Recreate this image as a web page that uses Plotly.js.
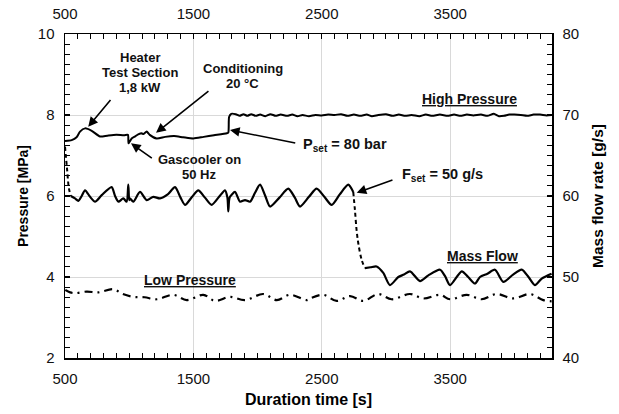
<!DOCTYPE html>
<html>
<head>
<meta charset="utf-8">
<script src="https://cdn.plot.ly/plotly-3.0.1.min.js"></script>
<style>html,body{margin:0;padding:0;background:#fff;}#chart{width:619px;height:414px;}</style>
</head>
<body>
<div id="chart"></div>
<script>
// Duration time [s] and values
const hpTime = [500,552,590,617,656,708,773,830,900,960,990,995,1019,1050,1070,1097,1110,1136,1160,1214,1280,1350,1420,1500,1580,1660,1760,1772,1778,1795,1830,1860,1890,1920,1950,1985,2020,2060,2100,2140,2180,2230,2270,2310,2350,2400,2450,2500,2550,2600,2650,2700,2750,2800,2850,2890,2940,3000,3050,3100,3150,3200,3260,3310,3360,3420,3480,3530,3580,3630,3680,3740,3790,3840,3880,3920,3960,4000,4050,4100,4150,4200,4250,4290];
const highPressure = [7.36,7.38,7.45,7.59,7.67,7.61,7.47,7.49,7.51,7.50,7.51,7.30,7.42,7.48,7.52,7.55,7.53,7.59,7.51,7.42,7.46,7.48,7.45,7.42,7.46,7.50,7.55,7.57,7.95,8.03,8.02,7.98,8.02,7.98,8.02,7.98,8.01,7.97,8.02,7.98,8.01,7.98,8.01,7.97,8.00,7.97,8.00,7.99,8.01,8.00,8.02,7.98,8.01,7.98,8.01,7.97,8.00,8.02,7.98,8.01,7.98,8.00,7.97,8.01,7.98,8.01,7.98,8.01,7.98,8.01,7.99,8.01,7.98,8.03,7.97,7.98,8.01,8.01,8.00,7.98,8.01,8.01,7.99,8.00];

const lpTime = [502,540,580,669,760,876,950,1032,1120,1214,1343,1448,1577,1668,1785,1902,2044,2149,2252,2382,2408,2512,2616,2720,2824,2940,3044,3187,3291,3421,3499,3629,3745,3862,3991,4121,4225,4290];
const lowPressure = [3.68,3.62,3.60,3.64,3.62,3.70,3.58,3.51,3.50,3.45,3.56,3.43,3.56,3.41,3.51,3.43,3.58,3.43,3.56,3.43,3.47,3.56,3.41,3.53,3.41,3.58,3.45,3.58,3.47,3.56,3.45,3.56,3.45,3.58,3.47,3.58,3.43,3.40];

const mfTime = [500,515,530,545,578,604,630,656,695,734,786,863,890,916,954,980,993,1000,1006,1032,1084,1136,1188,1240,1300,1357,1400,1435,1490,1538,1590,1642,1700,1746,1765,1772,1778,1785,1824,1863,1902,1941,1980,2019,2060,2097,2170,2239,2290,2330,2400,2460,2520,2577,2640,2706,2745,2758,2771,2784,2811,2836,2880,2927,2979,3031,3096,3140,3187,3265,3330,3421,3460,3499,3590,3640,3693,3732,3790,3849,3914,3990,4057,4110,4160,4213,4290];
const massFlow = [66.1,63.5,61.0,60.0,59.7,59.4,60.0,60.7,59.9,59.3,60.1,61.1,60.0,59.3,59.7,59.3,61.4,59.5,59.7,59.3,60.5,59.5,59.9,59.7,60.2,61.1,59.8,58.9,59.9,60.7,59.8,58.9,59.9,60.7,59.8,58.1,59.5,59.9,60.5,59.3,59.5,59.3,60.4,61.4,60.0,58.7,59.8,60.9,59.8,58.7,59.9,60.9,59.9,58.9,60.2,61.4,60.5,58.3,55.8,54.2,52.1,51.1,51.2,51.3,50.5,49.0,50.0,50.3,50.7,49.5,50.2,50.9,50.1,49.0,50.7,50.0,49.2,50.0,50.4,50.9,49.4,50.3,50.9,50.0,49.0,49.8,50.4];

const xTickVals = [500,1500,2500,3500];
const leftTicks = [2,4,6,8,10];
const rightTicks = [40,50,60,70,80];

const FONT = 'Arial, "Liberation Sans", sans-serif';
const black = '#000';

// split mass flow into dashed (transitions) and solid parts by index
const dashStartEnd = 3;
const descStart = 56, descEnd = 61;
function seg(a, i, j){ return a.slice(i, j + 1); }

const traces = [
  {x: hpTime, y: highPressure, type:'scatter', mode:'lines', line:{color:black, width:2, shape:'spline', smoothing:0.6}, xaxis:'x', yaxis:'y', hoverinfo:'skip'},
  {x: lpTime, y: lowPressure, type:'scatter', mode:'lines', line:{color:black, width:2.2, dash:'8px,5px,2px,5px', shape:'spline'}, xaxis:'x', yaxis:'y', hoverinfo:'skip'},
  {x: seg(mfTime,0,dashStartEnd), y: seg(massFlow,0,dashStartEnd), type:'scatter', mode:'lines', line:{color:black, width:2, dash:'4px,3px', shape:'spline'}, xaxis:'x', yaxis:'y2', hoverinfo:'skip'},
  {x: seg(mfTime,dashStartEnd,descStart), y: seg(massFlow,dashStartEnd,descStart), type:'scatter', mode:'lines', line:{color:black, width:2.2, shape:'spline', smoothing:0.7}, xaxis:'x', yaxis:'y2', hoverinfo:'skip'},
  {x: seg(mfTime,descStart,descEnd), y: seg(massFlow,descStart,descEnd), type:'scatter', mode:'lines', line:{color:black, width:2, dash:'4px,3px', shape:'spline'}, xaxis:'x', yaxis:'y2', hoverinfo:'skip'},
  {x: seg(mfTime,descEnd,mfTime.length-1), y: seg(massFlow,descEnd,mfTime.length-1), type:'scatter', mode:'lines', line:{color:black, width:2.2, shape:'spline', smoothing:0.7}, xaxis:'x', yaxis:'y2', hoverinfo:'skip'},
  {x: [], y: [], type:'scatter', mode:'lines', xaxis:'x2', yaxis:'y', showlegend:false, hoverinfo:'skip'}
];

const tickFont = {family: FONT, size: 15, color: '#111'};

const xCommon = {
  range: [500, 4293], tickvals: xTickVals, ticks: 'inside', ticklen: 5, tickwidth: 1.2, tickcolor: black,
  showline: true, linecolor: black, linewidth: 1.5, zeroline: false,
  minor: {ticks: 'inside', ticklen: 5, tickwidth: 1, tickcolor: black, dtick: 100, tick0: 500, showgrid: false},
  tickfont: tickFont
};

const layout = {
  width: 619, height: 414,
  margin: {l: 65, r: 67, t: 34, b: 56},
  paper_bgcolor: '#fff', plot_bgcolor: '#fff',
  showlegend: false,
  font: {family: FONT, color: black},
  xaxis: Object.assign({}, xCommon, {
    showgrid: true, gridcolor: '#d9d9d9', gridwidth: 1, ticklabelstandoff: 6,
    title: {text: '<b>Duration time [s]</b>', font: {family: FONT, size: 16, color: '#000'}, standoff: 8}
  }),
  xaxis2: Object.assign({}, xCommon, {
    overlaying: 'x', side: 'top', anchor: 'y', showgrid: false, matches: 'x', ticklabelstandoff: 8
  }),
  yaxis: {
    range: [2, 10], tickvals: leftTicks, ticks: 'inside', ticklen: 5, tickwidth: 1.2, tickcolor: black,
    showline: true, linecolor: black, linewidth: 1.5, zeroline: false,
    showgrid: true, gridcolor: '#d9d9d9', gridwidth: 1, ticklabelstandoff: 6,
    minor: {ticks: 'inside', ticklen: 5, tickwidth: 1, tickcolor: black, dtick: 0.25, tick0: 2, showgrid: false},
    tickfont: tickFont,
    title: {text: '<b>Pressure [MPa]</b>', font: {family: FONT, size: 14, color: '#000'}, standoff: 6}
  },
  yaxis2: {
    range: [40, 80], tickvals: rightTicks, overlaying: 'y', side: 'right', anchor: 'x',
    ticks: 'inside', ticklen: 5, tickwidth: 1.2, tickcolor: black, ticklabelstandoff: 6,
    showline: true, linecolor: black, linewidth: 1.5, zeroline: false, showgrid: false,
    minor: {ticks: 'inside', ticklen: 5, tickwidth: 1, tickcolor: black, dtick: 1.25, tick0: 40, showgrid: false},
    tickfont: tickFont,
    title: {text: '<b>Mass flow rate [g/s]</b>', font: {family: FONT, size: 15.5, color: '#000'}, standoff: 14}
  },
  annotations: []
};

function txt(x, y, text, size){
  return {x: x, y: y, xref: 'x', yref: 'y', text: text, showarrow: false,
          font: {family: FONT, size: size, color: '#111'}, align: 'center', xanchor: 'center', yanchor: 'middle'};
}
function arrow(hx, hy, tx, ty){
  return {x: hx, y: hy, ax: tx, ay: ty, xref: 'x', yref: 'y', axref: 'x', ayref: 'y', text: '', showarrow: true,
          arrowhead: 2, arrowsize: 1.2, arrowwidth: 1.6, arrowcolor: black, standoff: 0};
}
layout.annotations.push(
  txt(1084, 9.41, '<b>Heater</b>', 13),
  txt(1084, 9.04, '<b>Test Section</b>', 13),
  txt(1084, 8.69, '<b>1,8 kW</b>', 13),
  txt(1886, 9.16, '<b>Conditioning</b>', 13),
  txt(1886, 8.79, '<b>20 °C</b>', 13),
  txt(1544, 6.89, '<b>Gascooler on</b>', 13),
  txt(1544, 6.52, '<b>50 Hz</b>', 13),
  txt(2681, 7.26, '<b>P<sub>set</sub> = 80 bar</b>', 14.5),
  txt(3442, 6.52, '<b>F<sub>set</sub> = 50 g/s</b>', 14.5),
  txt(3654, 8.40, '<b><u>High Pressure</u></b>', 14),
  txt(3755, 4.52, '<b><u>Mass Flow</u></b>', 14),
  txt(1474, 3.93, '<b><u>Low Pressure</u></b>', 14),
  arrow(681, 7.71, 864, 8.41),
  arrow(1209, 7.56, 1629, 8.62),
  arrow(1014, 7.30, 1188, 6.91),
  arrow(1785, 7.63, 2305, 7.30),
  arrow(2772, 6.08, 3062, 6.41)
);

Plotly.newPlot('chart', traces, layout, {staticPlot: true, displayModeBar: false});
</script>
</body>
</html>
